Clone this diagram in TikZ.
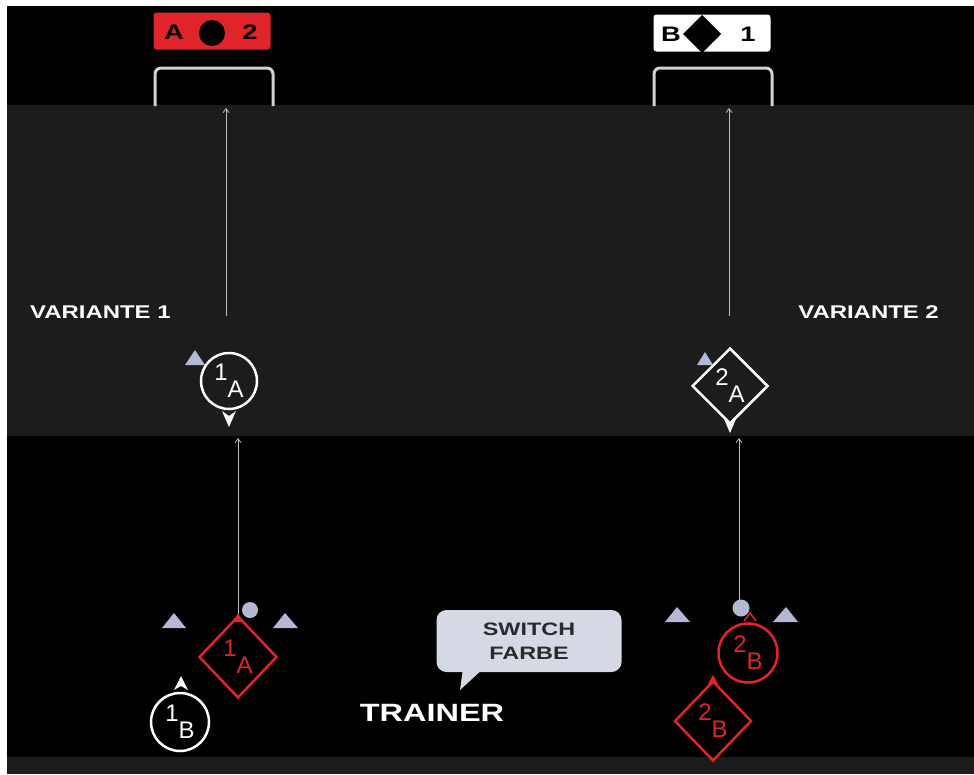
\documentclass[tikz,border=0pt]{standalone}
\usepackage{fontspec}
\newfontfamily\tech[FakeStretch=1.3]{Liberation Sans}
\newfontfamily\lab{Liberation Sans}
\usetikzlibrary{shapes.geometric,arrows.meta}
\definecolor{bandgray}{HTML}{1C1C1C}
\definecolor{tri}{HTML}{B4B8D4}
\definecolor{redc}{HTML}{E0252A}
\definecolor{bub}{HTML}{D5D9E3}
\definecolor{linec}{HTML}{BEBEBE}
\definecolor{brk}{HTML}{D2D2D2}
\definecolor{bubtext}{HTML}{2A2A2A}
\begin{document}
\begin{tikzpicture}[x=1pt,y=-1pt,
  techtxt/.style={font=\tech\bfseries\fontsize{18.4}{18.4}\selectfont, text=white, inner sep=0pt},
  arr/.style={draw=linec, line width=0.8pt, -{Straight Barb[length=4pt,width=6pt]}},
  lbl/.style={font=\lab\fontsize{24}{24}\selectfont, inner sep=0pt},
  wcirc/.style={lbl, circle, draw=white, line width=2.5pt, text=white},
  wdiam/.style={lbl, diamond, draw=white, line width=2.5pt, text=white},
  rcirc/.style={lbl, circle, draw=redc, line width=2.5pt, text=redc},
  rdiam/.style={lbl, diamond, draw=redc, line width=2.5pt, text=redc},
  tagbox/.style={rounded corners=3pt, minimum width=117pt, minimum height=37pt, inner sep=0pt},
  tagtxt/.style={font=\tech\bfseries\fontsize{21}{21}\selectfont, text=black, inner sep=0pt},
  bracket/.style={draw=brk, line width=3pt, rounded corners=6pt},
  marker/.style={fill=tri}
]
\useasboundingbox (0,0) rectangle (974,774);
\fill[white] (0,0) rectangle (974,774);
\fill[black] (7,6) rectangle (974,774);
\fill[bandgray] (7,105) rectangle (974,436);
\fill[bandgray] (7,757) rectangle (974,774);

% top tags
\node[tagbox, fill=redc] (tagA) at (212,31) {};
\node[tagtxt] (tagAl) at (174,32) {A};
\fill[black] (212,33) circle (13);
\node[tagtxt] (tagAr) at (250,32) {2};
\node[tagbox, fill=white] (tagB) at (712,33) {};
\node[tagtxt] (tagBl) at (671,34) {B};
\fill[black] (702,15) -- (721,34) -- (702,53) -- (683,34) -- cycle;
\node[tagtxt] (tagBr) at (748,34) {1};

% brackets (goals)
\draw[bracket] (155,106) -- (155,68) -- (273,68) -- (273,106);
\draw[bracket] (654,106) -- (654,68) -- (772,68) -- (772,106);

% upper arrows
\coordinate (g1) at (226,108);
\coordinate (s1) at (226,316);
\draw[arr] (s1) -- (g1);
\coordinate (g2) at (729,108);
\coordinate (s2) at (729,316);
\draw[arr] (s2) -- (g2);

\node[techtxt, anchor=west] (var1) at (30,312) {VARIANTE 1};
\node[techtxt, anchor=east] (var2) at (939,312) {VARIANTE 2};

% 1A white circle
\fill[marker] (185,365) -- (195,350) -- (205,365) -- cycle;
\node[wcirc, minimum size=56pt] (c1A) at (229,381) {\raisebox{8pt}{1}\raisebox{-9pt}{A}};
\fill[white] (222,411) -- (229,427) -- (236,411) -- (229,416) -- cycle;

% 2A white diamond
\fill[marker] (697,365) -- (705,352) -- (713,365) -- cycle;
\node[wdiam, minimum width=76pt, minimum height=76pt] (d2A) at (730,386) {\raisebox{8pt}{2}\raisebox{-9pt}{A}};
\fill[white] (724,419) -- (730,433) -- (736,419) -- (730,424) -- cycle;

% bottom left
\node[rdiam, minimum width=78pt, minimum height=82pt] (d1A) at (238,657) {\raisebox{8pt}{1}\raisebox{-9pt}{A}};
\coordinate (t1) at (238,438);
\draw[arr] (d1A.north) -- (t1);
\fill[redc] (233,622) -- (238,613) -- (243,622) -- cycle;
\fill[marker] (250,610) circle (8);
\fill[marker] (162,628) -- (174,613) -- (186,628) -- cycle;
\fill[marker] (273,628) -- (285,613) -- (298,628) -- cycle;
\node[wcirc, minimum size=58pt] (c1B) at (180,722) {\raisebox{8pt}{1}\raisebox{-9pt}{B}};
\fill[white] (174,690) -- (181,676) -- (188,690) -- (181,686) -- cycle;

% bottom right
\coordinate (t2) at (739,438);
\coordinate (b2) at (739,602);
\draw[arr] (b2) -- (t2);
\fill[marker] (741,608) circle (8.5);
\fill[marker] (665,622) -- (677,607) -- (690,622) -- cycle;
\fill[marker] (773,622) -- (786,607) -- (798,622) -- cycle;
\node[rcirc, minimum size=59pt] (c2B) at (748,653) {\raisebox{8pt}{2}\raisebox{-9pt}{B}};
\draw[redc, line width=1.5pt] (744,621) -- (750,613) -- (756,621);
\node[rdiam, minimum width=77pt, minimum height=80pt] (d2B) at (713,721) {\raisebox{8pt}{2}\raisebox{-9pt}{B}};
\fill[redc] (708,684) -- (713,675) -- (718,684) -- cycle;

% speech bubble
\fill[bub] (463,668) -- (460,690) -- (484,668) -- cycle;
\node[fill=bub, rounded corners=10pt, minimum width=185pt, minimum height=62pt, align=center,
      font=\tech\bfseries\fontsize{18}{24}\selectfont, text=bubtext] (bubble) at (529,641) {SWITCH\\FARBE};
\node[techtxt, font=\tech\bfseries\fontsize{25}{25}\selectfont] (trainer) at (432,713) {TRAINER};
\end{tikzpicture}
\end{document}
